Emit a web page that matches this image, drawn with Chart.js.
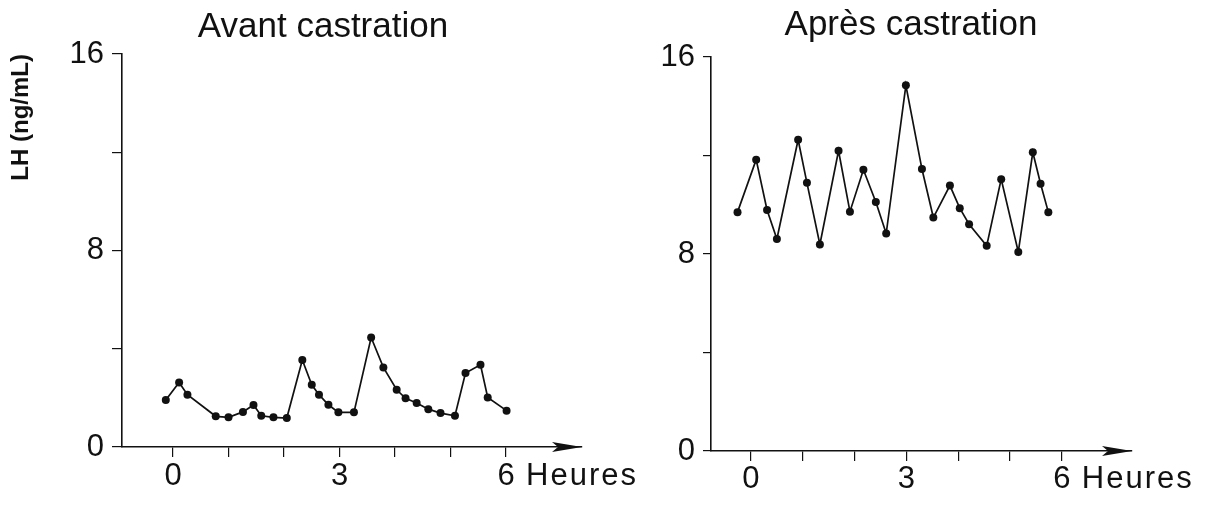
<!DOCTYPE html>
<html>
<head>
<meta charset="utf-8">
<title>LH avant / après castration</title>
<script src="https://cdn.jsdelivr.net/npm/chart.js@4.4.1/dist/chart.umd.min.js"></script>
<style>
    body { margin: 0; background: #fff; }
    .wrap { position: relative; width: 1213px; height: 509px; overflow: hidden; }
    canvas { position: absolute; top: 0; }
    #avant { left: 0; }
    #apres { left: 609px; }
</style>
</head>
<body>
<div class="wrap">
    <canvas id="avant" width="646" height="509"></canvas>
    <canvas id="apres" width="604" height="509"></canvas>
</div>
<script>
// values: time (hours) and LH (ng/mL)
const hoursAvant = [-0.13, 0.11, 0.26, 0.77, 1.00, 1.26, 1.45, 1.59, 1.81, 2.05, 2.33, 2.50, 2.63, 2.80,
                    2.98, 3.26, 3.57, 3.79, 4.03, 4.19, 4.39, 4.60, 4.82, 5.08, 5.27, 5.54, 5.67, 6.01];
const lhAvant = [1.91, 2.63, 2.13, 1.25, 1.21, 1.43, 1.71, 1.27, 1.21, 1.18, 3.54, 2.53, 2.13, 1.72,
                 1.41, 1.41, 4.46, 3.24, 2.33, 1.98, 1.79, 1.54, 1.38, 1.27, 3.01, 3.35, 2.02, 1.48];

const hoursApres = [-0.26, 0.10, 0.31, 0.50, 0.91, 1.08, 1.33, 1.69, 1.91, 2.17, 2.41, 2.61,
                    2.99, 3.30, 3.52, 3.84, 4.03, 4.21, 4.55, 4.83, 5.16, 5.44, 5.59, 5.74];
const lhApres = [9.70, 11.83, 9.79, 8.61, 12.64, 10.89, 8.39, 12.19, 9.72, 11.42, 10.11, 8.83,
                 14.85, 11.45, 9.48, 10.78, 9.86, 9.21, 8.33, 11.04, 8.08, 12.13, 10.85, 9.70];

// axes
const hourTicks = [0, 1, 2, 3, 4, 5, 6];
const hourLabels = [0, 3, 6];
const lhLabels = [0, 8, 16];
const unitLabel = "Heures";
const yAxisTitle = "LH (ng/mL)";

const ink = "#111";
const fontFamily = "'Liberation Sans', Arial, Helvetica, sans-serif";
Chart.defaults.font.family = fontFamily;
Chart.defaults.color = ink;

// arrow head on the time axis, and the "Heures" unit after the 6
const axisExtras = {
    id: "axisExtras",
    afterDraw(chart) {
        const ctx = chart.ctx;
        const area = chart.chartArea;
        const xs = chart.scales.x;
        ctx.save();
        ctx.fillStyle = ink;
        ctx.beginPath();
        ctx.moveTo(area.right, area.bottom);
        ctx.lineTo(area.right - 30, area.bottom - 5);
        ctx.lineTo(area.right - 24, area.bottom);
        ctx.lineTo(area.right - 30, area.bottom + 5);
        ctx.closePath();
        ctx.fill();

        const y = xs.top + xs.options.grid.tickLength + xs.options.ticks.padding + 18;
        ctx.font = "31px " + fontFamily;
        ctx.textAlign = "left";
        ctx.textBaseline = "middle";
        if ("letterSpacing" in ctx) ctx.letterSpacing = "2px";
        ctx.fillText(unitLabel, xs.getPixelForValue(6) + 20, y);
        ctx.restore();
    }
};

function drawPanel(id, title, hours, lh, p) {
    const points = hours.map((h, i) => ({ x: h, y: lh[i] }));

    return new Chart(document.getElementById(id), {
        type: "line",
        data: {
            datasets: [{
                data: points,
                borderColor: ink,
                borderWidth: 1.7,
                tension: 0,
                pointRadius: 4,
                pointBorderWidth: 0,
                pointBackgroundColor: ink
            }]
        },
        options: {
            responsive: false,
            animation: false,
            layout: { padding: 0 },
            plugins: {
                legend: { display: false },
                tooltip: { enabled: false },
                title: {
                    display: true,
                    text: title,
                    color: ink,
                    font: { size: 35, weight: "normal" },
                    padding: p.titlePad
                }
            },
            scales: {
                x: {
                    type: "linear",
                    min: p.xMin,
                    max: p.xMax,
                    border: { color: ink, width: 1.6 },
                    grid: { drawOnChartArea: false, drawTicks: true, tickLength: 10, color: ink, lineWidth: 1.2 },
                    ticks: {
                        autoSkip: false,
                        maxRotation: 0,
                        padding: p.xPad,
                        font: { size: 31 },
                        callback: (v) => hourLabels.includes(v) ? String(v) : ""
                    },
                    afterBuildTicks: (scale) => {
                        scale.ticks = hourTicks.map(v => ({ value: v }));
                    },
                    afterFit: (scale) => {
                        scale.height = p.xHeight;
                        scale.paddingRight = p.padRight;
                    }
                },
                y: {
                    min: 0,
                    max: 16,
                    border: { color: ink, width: 1.6 },
                    grid: { drawOnChartArea: false, drawTicks: true, tickLength: p.yTick, color: ink, lineWidth: 1.2 },
                    ticks: {
                        stepSize: 4,
                        padding: p.yPad,
                        font: { size: 31 },
                        callback: (v) => lhLabels.includes(v) ? String(v) : ""
                    },
                    title: {
                        display: p.showYTitle,
                        text: yAxisTitle,
                        align: "end",
                        color: ink,
                        font: { size: 24, weight: "bold" },
                        padding: { top: 7, bottom: 0 }
                    },
                    afterFit: (scale) => {
                        scale.width = p.yWidth;
                    }
                }
            }
        },
        plugins: [axisExtras]
    });
}

drawPanel("avant", "Avant castration", hoursAvant, lhAvant, {
    xMin: -0.919, xMax: 7.369,
    yWidth: 122, padRight: 64, xHeight: 62,
    titlePad: { top: 6, bottom: 6 },
    xPad: 1, yTick: 10, yPad: 8,
    showYTitle: true
});

drawPanel("apres", "Après castration", hoursApres, lhApres, {
    xMin: -0.772, xMax: 7.355,
    yWidth: 102, padRight: 81, xHeight: 58,
    titlePad: { top: 4, bottom: 11 },
    xPad: 0, yTick: 8, yPad: 8,
    showYTitle: false
});
</script>
</body>
</html>
